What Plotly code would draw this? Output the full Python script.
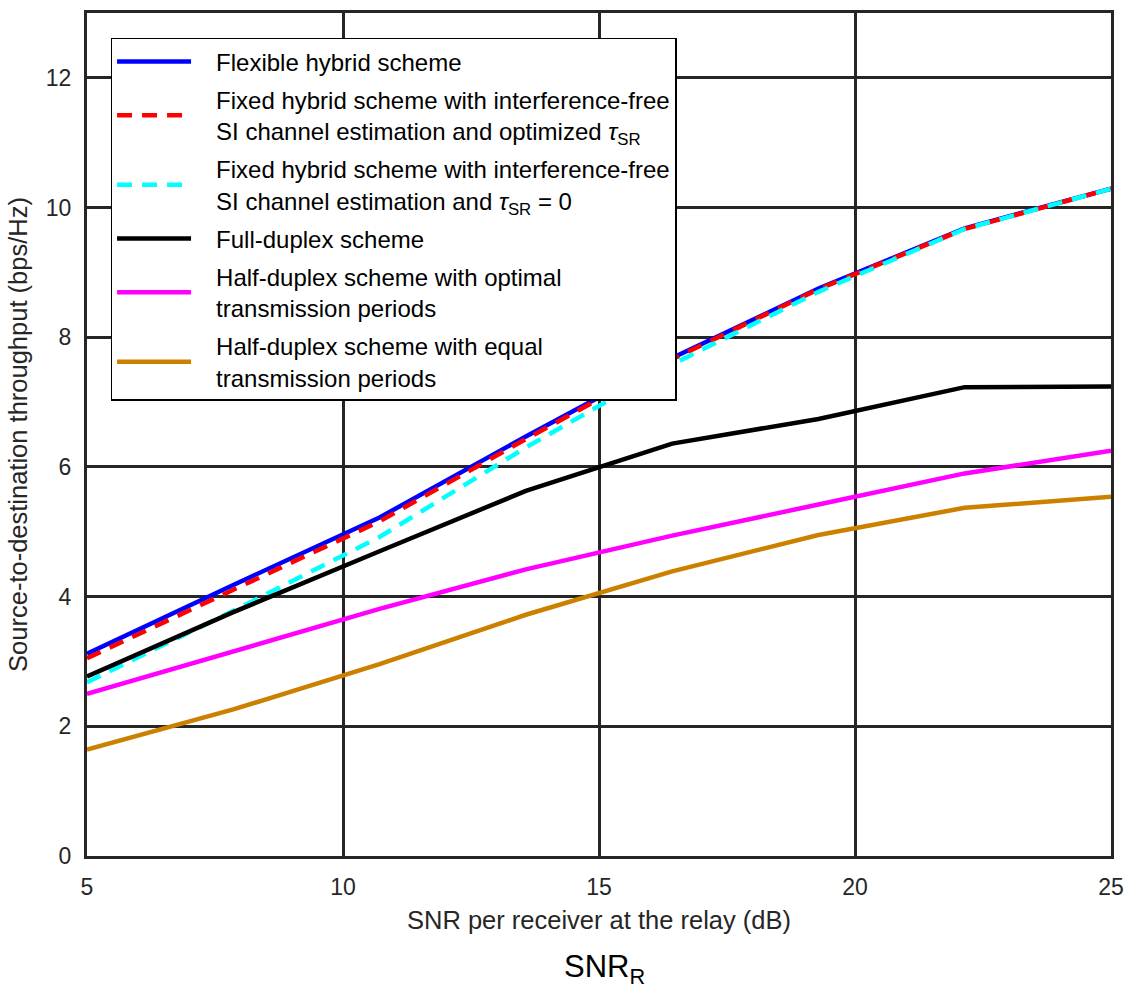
import plotly.graph_objects as go

snr = [5, 7.857, 10.714, 13.571, 16.429, 19.286, 22.143, 25]
flexible = [3.12, 4.18, 5.22, 6.47, 7.68, 8.75, 9.68, 10.29]
fixed_opt = [3.05, 4.10, 5.16, 6.43, 7.66, 8.74, 9.67, 10.29]
fixed_zero = [2.68, 3.78, 4.92, 6.30, 7.58, 8.70, 9.67, 10.29]
full_duplex = [2.77, 3.76, 4.70, 5.63, 6.36, 6.74, 7.23, 7.24]
half_opt = [2.50, 3.15, 3.81, 4.42, 4.94, 5.42, 5.90, 6.25]
half_eq = [1.64, 2.26, 2.96, 3.72, 4.39, 4.95, 5.37, 5.54]

names = [
    ["Flexible hybrid scheme"],
    ["Fixed hybrid scheme with interference-free",
     "SI channel estimation and optimized <i>τ</i><sub>SR</sub>"],
    ["Fixed hybrid scheme with interference-free",
     "SI channel estimation and <i>τ</i><sub>SR</sub> = 0"],
    ["Full-duplex scheme"],
    ["Half-duplex scheme with optimal", "transmission periods"],
    ["Half-duplex scheme with equal", "transmission periods"],
]
series = [flexible, fixed_opt, fixed_zero, full_duplex, half_opt, half_eq]
colors = ["#0000FF", "#FF0000", "#00FFFF", "#000000", "#FF00FF", "#CC8000"]
dashes = ["solid", "15px,10px", "15px,10px", "solid", "solid", "solid"]

pad = "\u00a0\u00a0\u00a0"
fig = go.Figure()
for i, (nm, ys, c, d) in enumerate(zip(names, series, colors, dashes)):
    label = "<br>".join(pad + part for part in nm)
    fig.add_trace(go.Scatter(
        x=snr, y=ys, mode="lines", name=label,
        line=dict(color=c, width=4.5, dash=d),
        legendgroup=f"g{i}",
    ))

axis_color = "#262626"
fig.update_layout(
    width=1134, height=990,
    margin=dict(l=87, r=15, t=10, b=134),
    paper_bgcolor="white", plot_bgcolor="white",
    font=dict(family="Liberation Sans, Arial, sans-serif", size=24, color=axis_color),
    showlegend=True,
    legend=dict(
        x=0.023, y=0.9705, xanchor="left", yanchor="top",
        bgcolor="white", bordercolor="#000000", borderwidth=1.5,
        font=dict(size=24, color="#000000"),
        itemwidth=74, tracegroupgap=4,
    ),
    xaxis=dict(
        range=[5, 25], dtick=5, tick0=5,
        showgrid=True, gridcolor=axis_color, gridwidth=2.5,
        showline=True, linecolor=axis_color, linewidth=3, mirror=True,
        ticks="outside", ticklen=8, tickcolor="rgba(0,0,0,0)", zeroline=False,
        tickfont=dict(size=23),
        title=dict(text="SNR per receiver at the relay (dB)", font=dict(size=25.5), standoff=13),
    ),
    yaxis=dict(
        range=[0, 13], dtick=2, tick0=0,
        showgrid=True, gridcolor=axis_color, gridwidth=2.5,
        showline=True, linecolor=axis_color, linewidth=3, mirror=True,
        ticks="outside", ticklen=8, tickcolor="rgba(0,0,0,0)", zeroline=False,
        tickfont=dict(size=23),
        title=dict(text="Source-to-destination throughput (bps/Hz)", font=dict(size=25.5), standoff=11),
    ),
    annotations=[dict(
        text="SNR<sub>R</sub>", xref="paper", yref="paper",
        x=0.505, y=-0.1075, xanchor="center", yanchor="top",
        showarrow=False, font=dict(size=31, color="#000000"),
    )],
)

fig.write_html("out.html")
